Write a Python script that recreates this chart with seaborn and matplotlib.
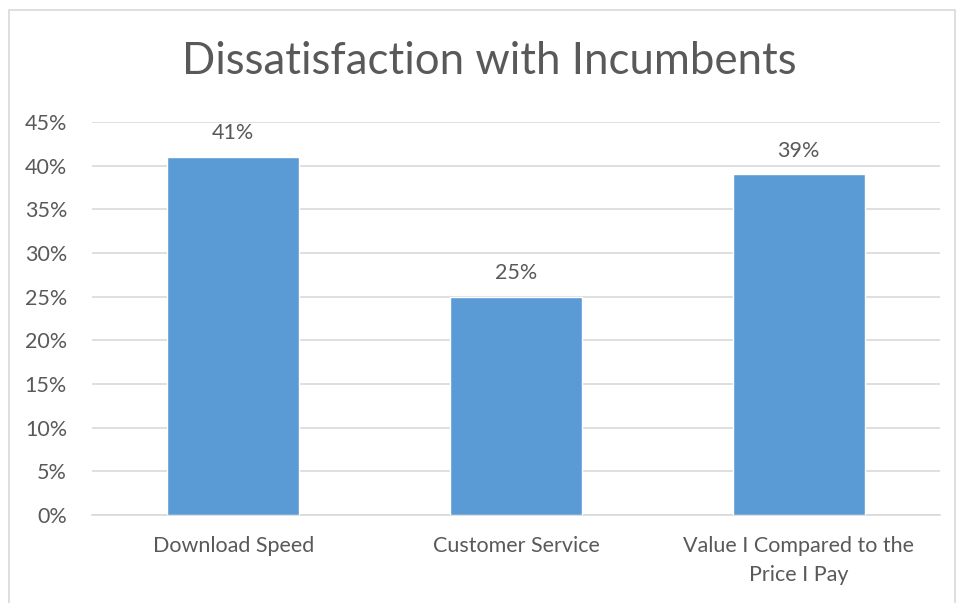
import matplotlib
matplotlib.use('Agg')
import matplotlib.pyplot as plt
import matplotlib.patches as mpatches
from matplotlib.ticker import PercentFormatter, MultipleLocator
import seaborn as sns
import pandas as pd

# ── Data ──
categories = ['Download Speed', 'Customer Service', 'Value I Compared to the\nPrice I Pay']
values     = [41, 25, 39]

BAR_COLOR  = '#5B9BD5'
TEXT_COLOR = '#595959'
GRID_COLOR = '#D9D9D9'

sns.set_style('white')
plt.rcParams['font.family'] = ['Lato', 'DejaVu Sans']

df = pd.DataFrame({'category': categories, 'value': values})

fig = plt.figure(figsize=(9.59, 6.03), dpi=100)
ax = fig.add_axes([92/959, 1 - 515/603, 848/959, 393/603])

sns.barplot(data=df, x='category', y='value', color=BAR_COLOR,
            width=0.466, saturation=1, ax=ax, zorder=3)

ax.set_ylim(0, 45)
ax.yaxis.set_major_locator(MultipleLocator(5))
ax.yaxis.set_major_formatter(PercentFormatter(decimals=0))
ax.grid(axis='y', color=GRID_COLOR, linewidth=1.2, zorder=0)
ax.set_axisbelow(True)
for s in ['top', 'right', 'left']:
    ax.spines[s].set_visible(False)
ax.spines['bottom'].set_color(GRID_COLOR)
ax.spines['bottom'].set_linewidth(1.2)
ax.tick_params(axis='both', length=0, labelsize=15.5, colors=TEXT_COLOR)
ax.tick_params(axis='x', pad=15)
ax.tick_params(axis='y', pad=18)
for t in ax.get_xticklabels():
    t.set_linespacing(1.6)
ax.set_xlabel('')
ax.set_ylabel('')

for c in ax.containers:
    ax.bar_label(c, labels=[f'{v}%' for v in values], padding=10,
                 fontsize=15.5, color=TEXT_COLOR)

fig.text(489/959, 1 - 62/603, 'Dissatisfaction with Incumbents',
         ha='center', va='center', fontsize=31.5, color=TEXT_COLOR)

# outer chart border
fig.patches.append(mpatches.Rectangle((9/959, -0.05), (955 - 9)/959, 1.05 - 10/603,
                                      transform=fig.transFigure, fill=False,
                                      edgecolor='#D9D9D9', linewidth=1.2))

fig.savefig('out.png', dpi=100)
